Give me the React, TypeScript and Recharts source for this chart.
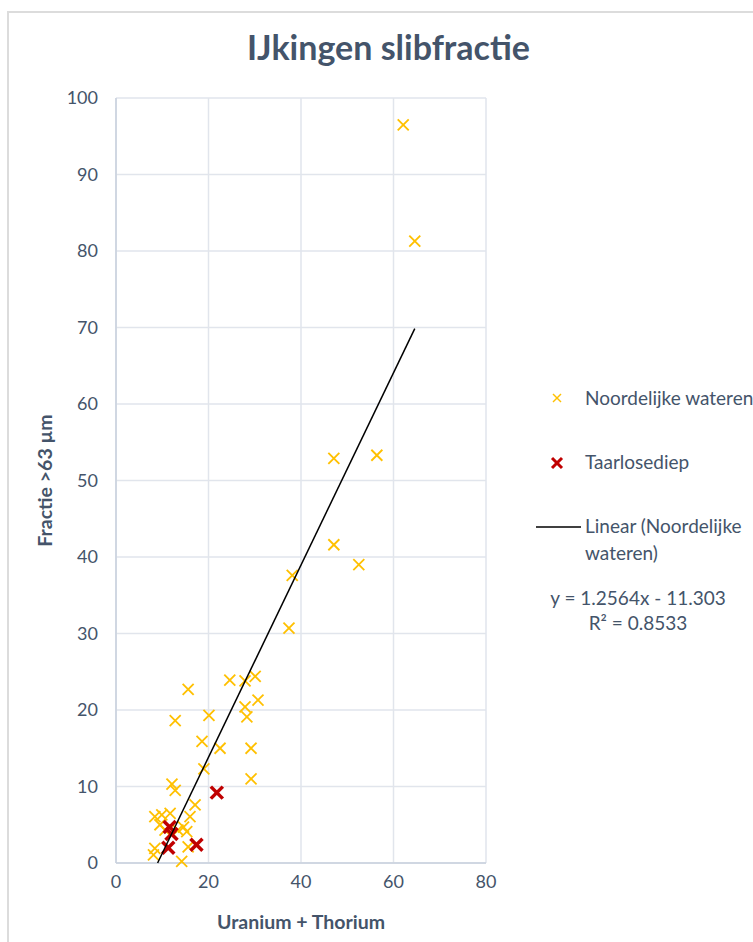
import React from 'react';
import { ScatterChart, Scatter, XAxis, YAxis, CartesianGrid } from 'recharts';

// Noordelijke wateren: Uranium + Thorium (x) vs Fractie >63 µm (y)
const noordX = [62.1, 64.6, 47.1, 56.4, 47.1, 52.5, 38.1, 37.4, 15.6, 24.6, 27.9, 30.1, 12.8, 20.1, 30.7, 27.9, 28.3, 18.6, 22.5, 29.2, 19.0, 29.2, 12.1, 12.8, 17.1, 8.4, 9.9, 11.7, 16.0, 14.6, 15.3, 9.5, 10.6, 13.4, 8.4, 8.1, 15.6, 14.2];
const noordY = [96.5, 81.3, 52.9, 53.3, 41.6, 39.0, 37.6, 30.7, 22.7, 23.9, 23.8, 24.4, 18.6, 19.3, 21.3, 20.4, 19.1, 15.9, 15.0, 15.0, 12.3, 11.0, 10.3, 9.5, 7.6, 6.05, 6.3, 6.5, 6.05, 4.7, 4.1, 5.0, 4.3, 4.3, 1.9, 1.05, 2.1, 0.2];

// Taarlosediep
const taarX = [21.8, 11.6, 12.0, 11.3, 17.4];
const taarY = [9.2, 4.7, 3.8, 2.0, 2.4];

// Trendline (Linear, Noordelijke wateren)
const trendSlope = 1.2564;
const trendIntercept = -11.303;
const trendR2 = 0.8533;

const xTicks = [0, 20, 40, 60, 80];
const yTicks = [0, 10, 20, 30, 40, 50, 60, 70, 80, 90, 100];

const noordData = noordX.map((x, i) => ({ x, y: noordY[i] }));
const taarData = taarX.map((x, i) => ({ x, y: taarY[i] }));
const xMin = Math.min(...noordX);
const xMax = Math.max(...noordX);
const xStart = Math.max(xMin, -trendIntercept / trendSlope);
const trendData = [xStart, xMax].map((x) => ({ x, y: trendSlope * x + trendIntercept }));

const FONT = 'Lato, "Open Sans", sans-serif';
const TEXT = '#44546A';
const YELLOW = '#FFC000';
const RED = '#C00000';

const YellowX = (props: any) => {
  const { cx, cy } = props;
  const s = 5.5;
  return (
    <g stroke={YELLOW} strokeWidth={1.8}>
      <line x1={cx - s} y1={cy - s} x2={cx + s} y2={cy + s} />
      <line x1={cx - s} y1={cy + s} x2={cx + s} y2={cy - s} />
    </g>
  );
};

const RedX = (props: any) => {
  const { cx, cy } = props;
  const s = 6;
  return (
    <g stroke={RED} strokeWidth={3.5}>
      <line x1={cx - s} y1={cy - s} x2={cx + s} y2={cy + s} />
      <line x1={cx - s} y1={cy + s} x2={cx + s} y2={cy - s} />
    </g>
  );
};

const NoShape = () => <g />;

const LH = 24;
const LegendBox = () => (
  <div style={{ position: 'absolute', left: 0, top: 0, fontFamily: FONT, color: TEXT, fontSize: 19 }}>
    <svg width={20} height={20} style={{ position: 'absolute', left: 547, top: 388 }}>
      <g stroke={YELLOW} strokeWidth={1.5}>
        <line x1={6} y1={6} x2={14} y2={14} />
        <line x1={6} y1={14} x2={14} y2={6} />
      </g>
    </svg>
    <div style={{ position: 'absolute', left: 585, top: 398 - LH / 2, lineHeight: LH + 'px', whiteSpace: 'nowrap' }}>Noordelijke wateren</div>
    <svg width={20} height={20} style={{ position: 'absolute', left: 547, top: 453 }}>
      <g stroke={RED} strokeWidth={3}>
        <line x1={5} y1={5} x2={15} y2={15} />
        <line x1={5} y1={15} x2={15} y2={5} />
      </g>
    </svg>
    <div style={{ position: 'absolute', left: 585, top: 462 - LH / 2, lineHeight: LH + 'px', whiteSpace: 'nowrap' }}>Taarlosediep</div>
    <svg width={50} height={4} style={{ position: 'absolute', left: 536, top: 525 }}>
      <line x1={0} y1={2} x2={45} y2={2} stroke="#000" strokeWidth={1.5} />
    </svg>
    <div style={{ position: 'absolute', left: 585, top: 525 - 13, lineHeight: '27px', whiteSpace: 'nowrap' }}>
      Linear (Noordelijke
      <br />
      wateren)
    </div>
    <div style={{ position: 'absolute', left: 538, top: 597 - 12, width: 200, textAlign: 'center', lineHeight: '25px', whiteSpace: 'nowrap' }}>
      {`y = ${trendSlope}x - ${Math.abs(trendIntercept)}`}
      <br />
      {`R² = ${trendR2}`}
    </div>
  </div>
);

export default function App() {
  return (
    <div style={{ position: 'absolute', left: 0, top: 0, width: 753, height: 942, overflow: 'hidden', background: '#fff' }}>
      <div style={{ position: 'absolute', left: 7, top: 11, width: 800, height: 1000, border: '2px solid #dcdcdc', boxSizing: 'border-box' }} />
      <div style={{ position: 'absolute', left: 0, width: 753, textAlign: 'center', paddingLeft: 24, boxSizing: 'border-box', top: 26, fontFamily: FONT, fontWeight: 700, fontSize: 34, color: TEXT }}>
        IJkingen slibfractie
      </div>
      <div style={{ position: 'absolute', left: 0, top: 0 }}>
        <ScatterChart width={753} height={942} margin={{ top: 98, right: 267, bottom: 29, left: 56 }}>
          <CartesianGrid stroke="#e1e5ec" strokeWidth={1.5} />
          <XAxis
            type="number"
            dataKey="x"
            domain={[0, 80]}
            ticks={xTicks}
            height={50}
            axisLine={{ stroke: '#c9d1dd', strokeWidth: 1.5 }}
            tickLine={false}
            tickSize={0}
            tickMargin={12}
            tick={{ fill: TEXT, fontSize: 18, fontFamily: FONT }}
            label={{ value: 'Uranium + Thorium', position: 'insideBottom', offset: -16, fill: TEXT, fontSize: 19.5, fontWeight: 700, fontFamily: FONT }}
          />
          <YAxis
            type="number"
            dataKey="y"
            domain={[0, 100]}
            ticks={yTicks}
            width={60}
            axisLine={{ stroke: '#c9d1dd', strokeWidth: 1.5 }}
            tickLine={false}
            tickSize={0}
            tickMargin={18}
            tick={{ fill: TEXT, fontSize: 18, fontFamily: FONT }}
            label={{ value: 'Fractie >63 µm', angle: -90, position: 'insideLeft', offset: -11, style: { textAnchor: 'middle' }, fill: TEXT, fontSize: 19.5, fontWeight: 700, fontFamily: FONT }}
          />
          <Scatter name="Noordelijke wateren" data={noordData} shape={YellowX} isAnimationActive={false} />
          <Scatter name="Taarlosediep" data={taarData} shape={RedX} isAnimationActive={false} />
          <Scatter
            name="Linear (Noordelijke wateren)"
            data={trendData}
            line={{ stroke: '#000', strokeWidth: 1.5 }}
            shape={NoShape}
            isAnimationActive={false}
          />
        </ScatterChart>
      </div>
      <LegendBox />
    </div>
  );
}
